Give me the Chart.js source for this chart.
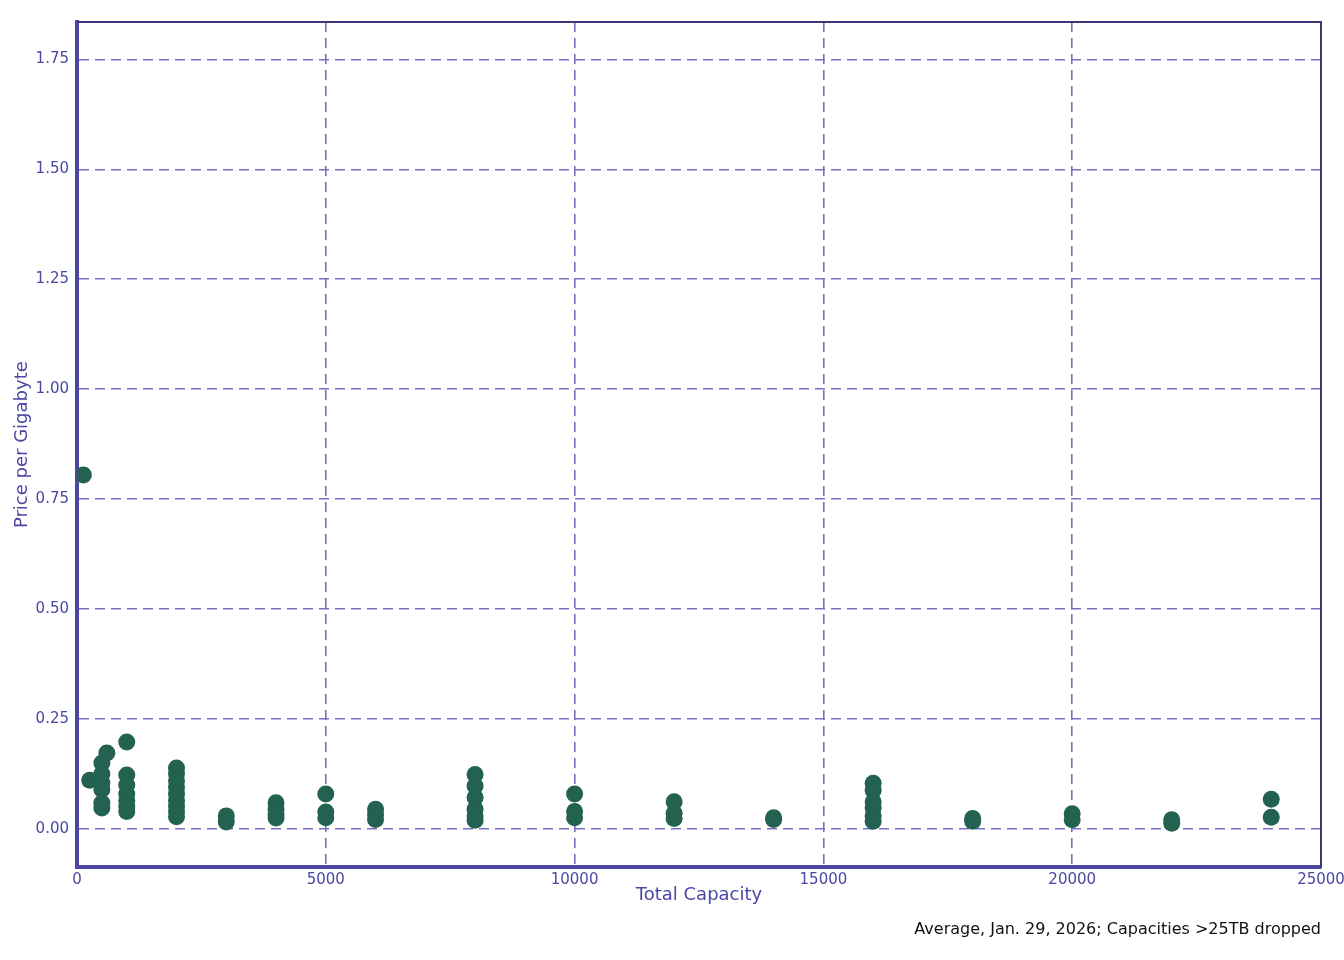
<!DOCTYPE html>
<html>
<head>
<meta charset="utf-8">
<script src="https://cdn.jsdelivr.net/npm/chart.js@4/dist/chart.umd.min.js"></script>
<style>
  html, body { margin: 0; padding: 0; background: #ffffff; overflow: hidden; }
  #wrap { width: 1344px; height: 960px; }
</style>
</head>
<body>
<div id="wrap"><canvas id="c" width="1344" height="960"></canvas></div>
<script>
// Total capacity (GB) of each listing
const capacities = [
  128,
  256,
  500, 500, 500, 500, 500, 500,
  600,
  1000, 1000, 1000, 1000, 1000, 1000, 1000,
  2000, 2000, 2000, 2000, 2000, 2000, 2000, 2000, 2000,
  3000, 3000,
  4000, 4000, 4000, 4000,
  5000, 5000, 5000,
  6000, 6000, 6000,
  8000, 8000, 8000, 8000, 8000, 8000,
  10000, 10000, 10000,
  12000, 12000, 12000,
  14000, 14000,
  16000, 16000, 16000, 16000, 16000, 16000,
  18000, 18000,
  20000, 20000,
  22000, 22000,
  24000, 24000
];
// Price per gigabyte of each listing
const pricesPerGB = [
  0.805,
  0.111,
  0.150, 0.125, 0.105, 0.090, 0.059, 0.048,
  0.173,
  0.198, 0.123, 0.100, 0.080, 0.065, 0.052, 0.040,
  0.139, 0.125, 0.110, 0.095, 0.080, 0.065, 0.052, 0.040, 0.028,
  0.030, 0.016,
  0.060, 0.045, 0.035, 0.025,
  0.080, 0.039, 0.026,
  0.045, 0.033, 0.022,
  0.124, 0.098, 0.072, 0.045, 0.030, 0.020,
  0.080, 0.040, 0.026,
  0.062, 0.036, 0.024,
  0.026, 0.022,
  0.104, 0.088, 0.062, 0.048, 0.030, 0.018,
  0.024, 0.018,
  0.035, 0.021,
  0.021, 0.013,
  0.068, 0.027
];
const xTitle = 'Total Capacity';
const yTitle = 'Price per Gigabyte';
const footnote = 'Average, Jan. 29, 2026; Capacities >25TB dropped';

const points = capacities.map((c, i) => ({ x: c, y: pricesPerGB[i] }));

const AXIS = '#4b47a3';
const GRID = '#7a70c0';
const DOT = '#236150';
const FONT = "'DejaVu Sans', sans-serif";

const frame = {
  id: 'frame',
  afterDraw(chart) {
    const { ctx, chartArea: a } = chart;
    ctx.save();
    ctx.strokeStyle = '#3c3878';
    ctx.lineWidth = 2;
    ctx.beginPath();
    ctx.moveTo(a.left, a.top);
    ctx.lineTo(a.right, a.top);
    ctx.lineTo(a.right, a.bottom);
    ctx.stroke();
    ctx.restore();
  }
};

new Chart(document.getElementById('c'), {
  type: 'scatter',
  data: {
    datasets: [{
      data: points,
      backgroundColor: DOT,
      borderColor: DOT,
      borderWidth: 0,
      pointRadius: 8.5,
      pointHoverRadius: 8.5
    }]
  },
  options: {
    responsive: false,
    animation: false,
    devicePixelRatio: 1,
    layout: { padding: { left: 0, top: 22, right: 23, bottom: 12.5 } },
    plugins: {
      legend: { display: false },
      tooltip: { enabled: false },
      subtitle: {
        display: true,
        text: footnote,
        position: 'bottom',
        align: 'end',
        color: '#111111',
        font: { family: FONT, size: 16, weight: 'normal' },
        padding: { top: 8, bottom: 8 }
      }
    },
    scales: {
      x: {
        type: 'linear',
        min: 0,
        max: 25000,
        afterFit(s) { s.height = 45; s.paddingRight = 0; s.paddingLeft = 0; },
        ticks: {
          stepSize: 5000,
          includeBounds: false,
          color: AXIS,
          padding: 4,
          maxRotation: 0,
          font: { family: FONT, size: 15 },
          callback: v => String(v)
        },
        grid: {
          color: GRID,
          lineWidth: 1.6,
          drawTicks: false
        },
        border: { display: true, color: AXIS, width: 4, dash: [10, 6] },
        title: {
          display: true,
          text: xTitle,
          color: AXIS,
          font: { family: FONT, size: 18 },
          padding: { top: 0, bottom: 6 }
        }
      },
      y: {
        type: 'linear',
        min: -0.0869,
        max: 1.835,
        afterFit(s) { s.width = 77; s.paddingTop = 0; s.paddingBottom = 0; },
        ticks: {
          stepSize: 0.25,
          includeBounds: false,
          color: AXIS,
          padding: 8,
          font: { family: FONT, size: 15 },
          callback: v => Number(v).toFixed(2)
        },
        grid: {
          color: GRID,
          lineWidth: 1.6,
          drawTicks: false
        },
        border: { display: true, color: AXIS, width: 4, dash: [10, 6] },
        title: {
          display: true,
          text: yTitle,
          color: AXIS,
          font: { family: FONT, size: 18 },
          padding: { top: 12, bottom: 0 }
        }
      }
    }
  },
  plugins: [frame]
});
</script>
</body>
</html>
